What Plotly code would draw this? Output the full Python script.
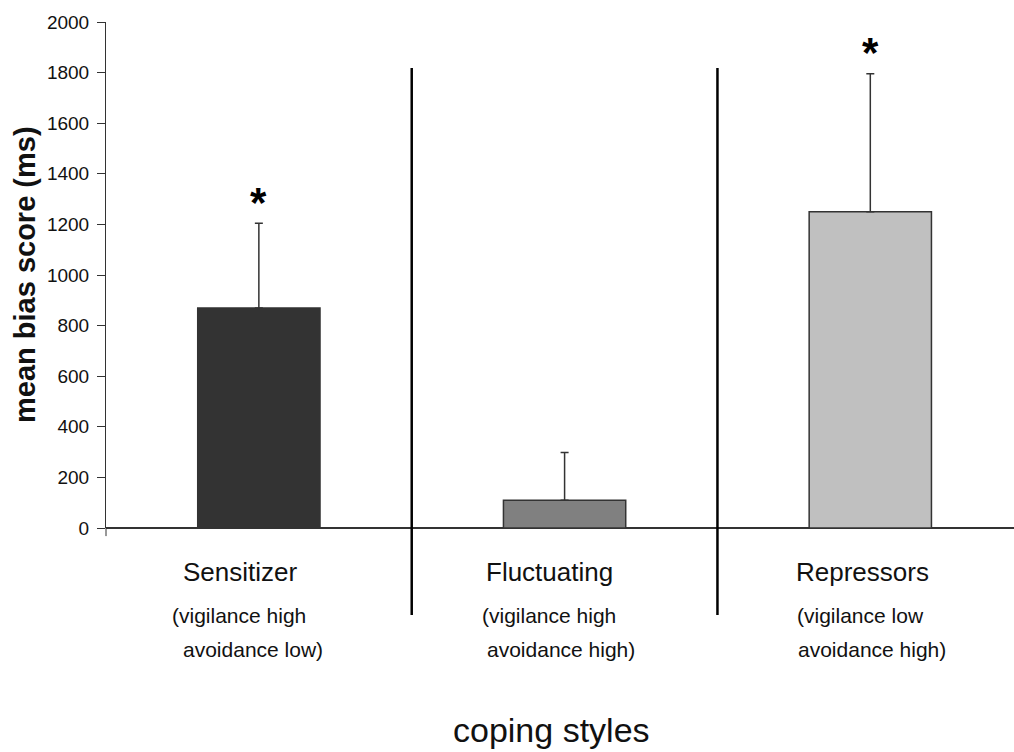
import plotly.graph_objects as go

# ---- data ----
categories = ["Sensitizer", "Fluctuating", "Repressors"]
descr_line1 = ["(vigilance high", "(vigilance high", "(vigilance low"]
descr_line2 = ["avoidance low)", "avoidance high)", "avoidance high)"]
mean_bias = [870, 110, 1250]
error_up = [335, 188, 545]
significant = [True, False, True]
bar_colors = ["#333333", "#808080", "#c0c0c0"]
y_ticks = [0, 200, 400, 600, 800, 1000, 1200, 1400, 1600, 1800, 2000]

xpos = list(range(len(categories)))

fig = go.Figure()
fig.add_trace(go.Bar(
    x=xpos, y=mean_bias, width=0.40,
    marker=dict(color=bar_colors, line=dict(color="#333333", width=1.5)),
    error_y=dict(type="data", symmetric=False, array=error_up,
                 arrayminus=[0] * len(mean_bias),
                 color="#333333", thickness=1.5, width=4),
    showlegend=False, hoverinfo="skip",
))

FONT = "Liberation Sans, Arial, sans-serif"
annotations = []
label_shift = [-19, -15, -8]
l1_shift = [-20, -16, -10]
l2_shift = [-6, -4, 2]
for i, c in enumerate(categories):
    annotations.append(dict(x=i, y=-0.120, xref="x", yref="paper", text=c,
                            showarrow=False, xshift=label_shift[i],
                            font=dict(family=FONT, size=26, color="#111")))
    annotations.append(dict(x=i, y=-0.200, xref="x", yref="paper", text=descr_line1[i],
                            showarrow=False, xshift=l1_shift[i],
                            font=dict(family=FONT, size=21, color="#111")))
    annotations.append(dict(x=i, y=-0.266, xref="x", yref="paper", text=descr_line2[i],
                            showarrow=False, xshift=l2_shift[i],
                            font=dict(family=FONT, size=21, color="#111")))
    if significant[i]:
        annotations.append(dict(x=i, y=mean_bias[i] + error_up[i], xref="x", yref="y",
                                text="<b>*</b>", showarrow=False, yshift=21,
                                font=dict(family=FONT, size=42, color="#000")))

annotations.append(dict(x=(551 - 106) / (1014 - 106), y=(528 - 751) / 506,
                        xref="paper", yref="paper", yanchor="bottom",
                        text="coping styles", showarrow=False,
                        font=dict(family=FONT, size=34, color="#111")))

annotations.append(dict(x=0, y=0.5, xref="paper", yref="paper",
                        text="<b>mean bias score (ms)</b>", textangle=-90,
                        showarrow=False, xshift=-81, xanchor="center",
                        yanchor="middle",
                        font=dict(family=FONT, size=29, color="#111")))

shapes = []
for sep in [0.5, 1.5]:
    shapes.append(dict(type="line", xref="x", yref="paper", x0=sep, x1=sep,
                       y0=0.909, y1=-0.172, line=dict(color="#000", width=2.5)))
# small extension of the y axis below zero
shapes.append(dict(type="line", xref="paper", yref="paper", x0=0, x1=0,
                   y0=0, y1=-0.016, line=dict(color="#333", width=1)))

fig.update_layout(
    width=1014, height=752,
    margin=dict(l=106, r=0, t=22, b=224),
    paper_bgcolor="white", plot_bgcolor="white",
    font=dict(family=FONT, color="#111"),
    annotations=annotations, shapes=shapes,
    xaxis=dict(range=[-0.5, 2.47], showticklabels=False, ticks="",
               showgrid=False, zeroline=False, showline=False, fixedrange=True),
    yaxis=dict(range=[0, 2000], tickvals=y_ticks, ticks="outside", ticklen=8,
               tickcolor="#333", tickwidth=1, showline=True, linecolor="#333",
               linewidth=1, showgrid=False, zeroline=True, zerolinecolor="#333",
               zerolinewidth=1.5, automargin=False, ticklabelstandoff=4,
               fixedrange=True,
               tickfont=dict(family=FONT, size=19, color="#111")),
)

fig.write_html("out.html", config={"displayModeBar": False},
               post_script="document.body.style.margin='0';document.body.style.overflow='hidden';")
